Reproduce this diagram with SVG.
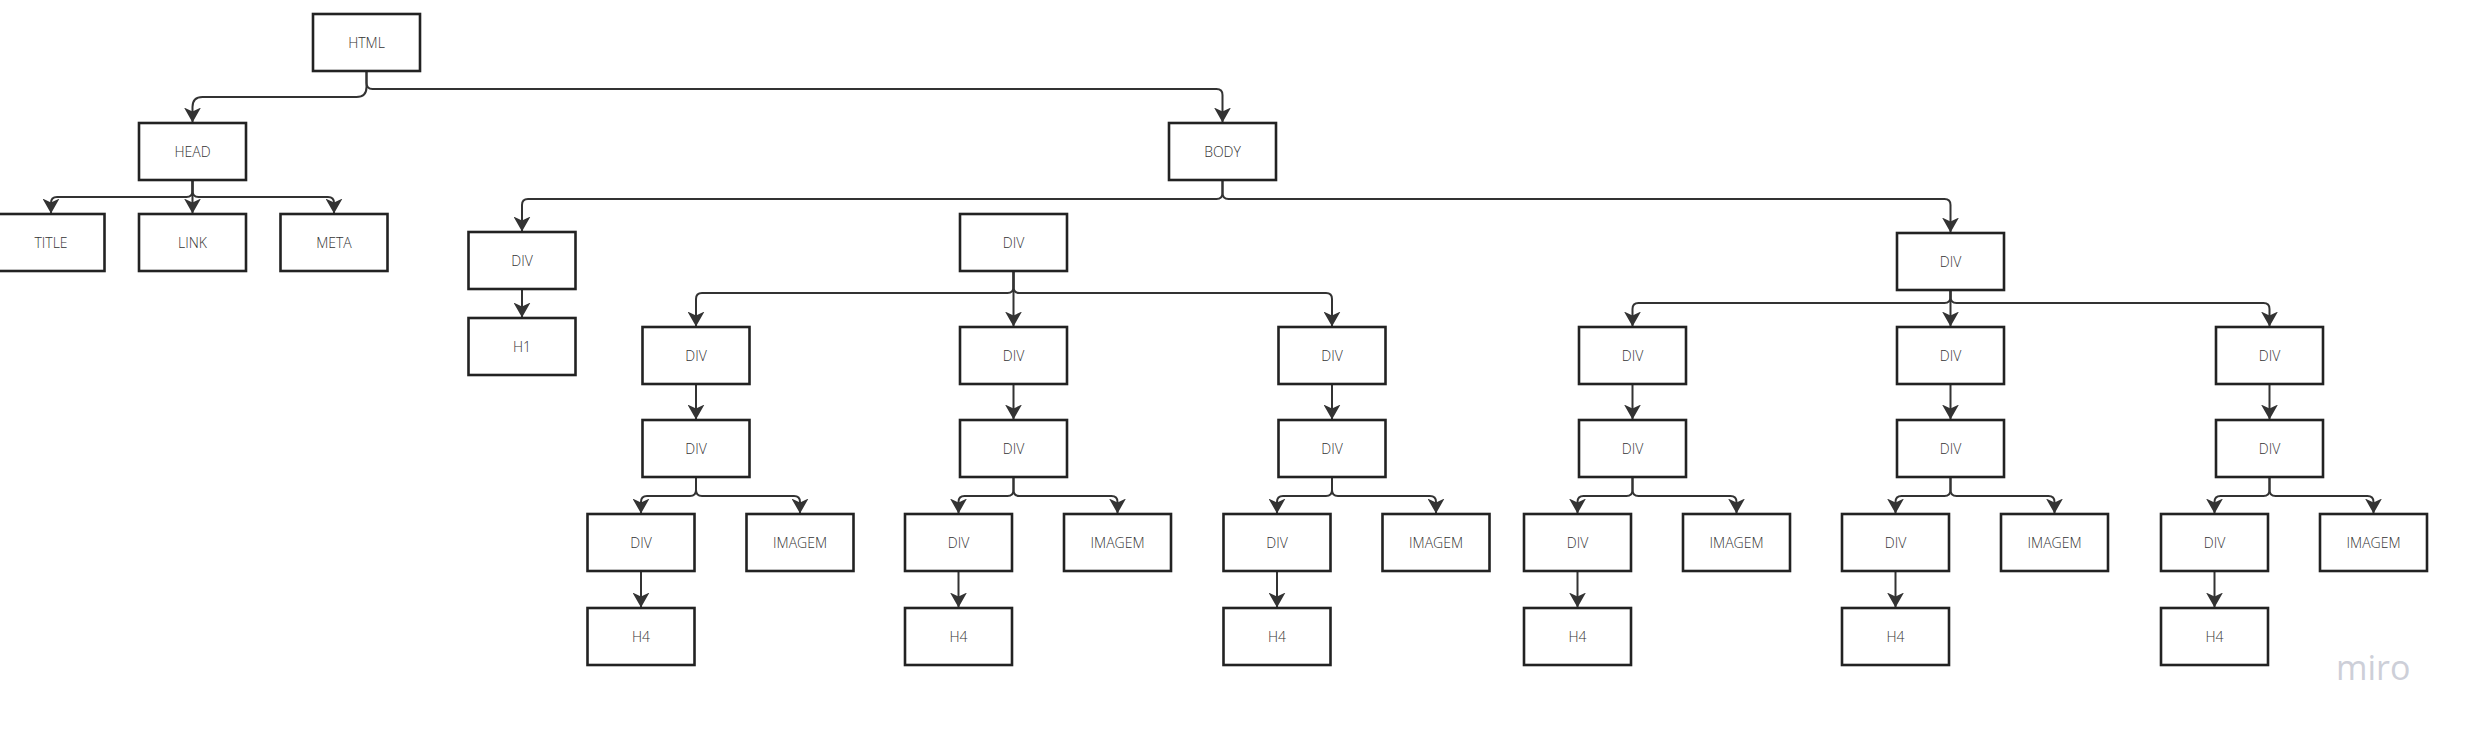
<svg xmlns="http://www.w3.org/2000/svg" width="2472" height="737" viewBox="0 0 2472 737">
<style>
.n rect{fill:#fff;stroke:#222;stroke-width:2.6}
.n text{font-family:"Open Sans","Liberation Sans",sans-serif;font-size:14px;font-weight:350;fill:#333;text-anchor:middle;dominant-baseline:central}
#connectors path{fill:none;stroke:#333;stroke-width:2;marker-end:url(#a)}
</style>
<defs>
<marker id="a" markerUnits="userSpaceOnUse" markerWidth="15" markerHeight="17" viewBox="0 0 15 17" refX="14.5" refY="8.5" orient="auto">
<path d="M0,0 L15,8.5 L0,17 L4,8.5 z" fill="#333"/>
</marker>
</defs>
<rect width="2472" height="737" fill="#fff"/>
<g id="connectors">
<path d="M366.5,71 V87 Q366.5,97 356.5,97 H202.5 Q192.5,97 192.5,107 V122"/>
<path d="M366.5,71 V83 Q366.5,89 372.5,89 H1216.5 Q1222.5,89 1222.5,95 V122"/>
<path d="M192.5,180 V191 Q192.5,197 186.5,197 H57 Q51,197 51,203 V213"/>
<path d="M192.5,180 V213"/>
<path d="M192.5,180 V191 Q192.5,197 198.5,197 H328 Q334,197 334,203 V213"/>
<path d="M1222.5,180 V193 Q1222.5,199 1216.5,199 H528 Q522,199 522,205 V231"/>
<path d="M1222.5,180 V193 Q1222.5,199 1228.5,199 H1944.5 Q1950.5,199 1950.5,205 V232"/>
<path d="M522,289 V317"/>
<path d="M1013.5,271 V287 Q1013.5,293 1007.5,293 H702 Q696,293 696,299 V326"/>
<path d="M1013.5,271 V326"/>
<path d="M1013.5,271 V287 Q1013.5,293 1019.5,293 H1326 Q1332,293 1332,299 V326"/>
<path d="M1950.5,290 V297 Q1950.5,303 1944.5,303 H1638.5 Q1632.5,303 1632.5,309 V326"/>
<path d="M1950.5,290 V326"/>
<path d="M1950.5,290 V297 Q1950.5,303 1956.5,303 H2263.5 Q2269.5,303 2269.5,309 V326"/>
<path d="M696,384 V419"/>
<path d="M696,477 V490 Q696,496 690,496 H647 Q641,496 641,502 V513"/>
<path d="M696,477 V490 Q696,496 702,496 H794 Q800,496 800,502 V513"/>
<path d="M641,571 V607"/>
<path d="M1013.5,384 V419"/>
<path d="M1013.5,477 V490 Q1013.5,496 1007.5,496 H964.5 Q958.5,496 958.5,502 V513"/>
<path d="M1013.5,477 V490 Q1013.5,496 1019.5,496 H1111.5 Q1117.5,496 1117.5,502 V513"/>
<path d="M958.5,571 V607"/>
<path d="M1332,384 V419"/>
<path d="M1332,477 V490 Q1332,496 1326,496 H1283 Q1277,496 1277,502 V513"/>
<path d="M1332,477 V490 Q1332,496 1338,496 H1430 Q1436,496 1436,502 V513"/>
<path d="M1277,571 V607"/>
<path d="M1632.5,384 V419"/>
<path d="M1632.5,477 V490 Q1632.5,496 1626.5,496 H1583.5 Q1577.5,496 1577.5,502 V513"/>
<path d="M1632.5,477 V490 Q1632.5,496 1638.5,496 H1730.5 Q1736.5,496 1736.5,502 V513"/>
<path d="M1577.5,571 V607"/>
<path d="M1950.5,384 V419"/>
<path d="M1950.5,477 V490 Q1950.5,496 1944.5,496 H1901.5 Q1895.5,496 1895.5,502 V513"/>
<path d="M1950.5,477 V490 Q1950.5,496 1956.5,496 H2048.5 Q2054.5,496 2054.5,502 V513"/>
<path d="M1895.5,571 V607"/>
<path d="M2269.5,384 V419"/>
<path d="M2269.5,477 V490 Q2269.5,496 2263.5,496 H2220.5 Q2214.5,496 2214.5,502 V513"/>
<path d="M2269.5,477 V490 Q2269.5,496 2275.5,496 H2367.5 Q2373.5,496 2373.5,502 V513"/>
<path d="M2214.5,571 V607"/>
</g>
<g id="html" class="n"><rect x="313" y="14" width="107" height="57"/><text x="366.5" y="42.5">HTML</text></g>
<g id="head" class="n"><rect x="139" y="123" width="107" height="57"/><text x="192.5" y="151.5">HEAD</text></g>
<g id="title" class="n"><rect x="-2.5" y="214" width="107" height="57"/><text x="51" y="242.5">TITLE</text></g>
<g id="link" class="n"><rect x="139" y="214" width="107" height="57"/><text x="192.5" y="242.5">LINK</text></g>
<g id="meta" class="n"><rect x="280.5" y="214" width="107" height="57"/><text x="334" y="242.5">META</text></g>
<g id="body" class="n"><rect x="1169" y="123" width="107" height="57"/><text x="1222.5" y="151.5">BODY</text></g>
<g id="div1" class="n"><rect x="468.5" y="232" width="107" height="57"/><text x="522" y="260.5">DIV</text></g>
<g id="h1" class="n"><rect x="468.5" y="318" width="107" height="57"/><text x="522" y="346.5">H1</text></g>
<g id="div2" class="n"><rect x="960" y="214" width="107" height="57"/><text x="1013.5" y="242.5">DIV</text></g>
<g id="div3" class="n"><rect x="1897" y="233" width="107" height="57"/><text x="1950.5" y="261.5">DIV</text></g>

<g id="s1-div" class="n"><rect x="642.5" y="327" width="107" height="57"/><text x="696" y="355.5">DIV</text></g>
<g id="s1-div2" class="n"><rect x="642.5" y="420" width="107" height="57"/><text x="696" y="448.5">DIV</text></g>
<g id="s1-div3" class="n"><rect x="587.5" y="514" width="107" height="57"/><text x="641" y="542.5">DIV</text></g>
<g id="s1-img" class="n"><rect x="746.5" y="514" width="107" height="57"/><text x="800" y="542.5">IMAGEM</text></g>
<g id="s1-h4" class="n"><rect x="587.5" y="608" width="107" height="57"/><text x="641" y="636.5">H4</text></g>

<g id="s2-div" class="n"><rect x="960" y="327" width="107" height="57"/><text x="1013.5" y="355.5">DIV</text></g>
<g id="s2-div2" class="n"><rect x="960" y="420" width="107" height="57"/><text x="1013.5" y="448.5">DIV</text></g>
<g id="s2-div3" class="n"><rect x="905" y="514" width="107" height="57"/><text x="958.5" y="542.5">DIV</text></g>
<g id="s2-img" class="n"><rect x="1064" y="514" width="107" height="57"/><text x="1117.5" y="542.5">IMAGEM</text></g>
<g id="s2-h4" class="n"><rect x="905" y="608" width="107" height="57"/><text x="958.5" y="636.5">H4</text></g>

<g id="s3-div" class="n"><rect x="1278.5" y="327" width="107" height="57"/><text x="1332" y="355.5">DIV</text></g>
<g id="s3-div2" class="n"><rect x="1278.5" y="420" width="107" height="57"/><text x="1332" y="448.5">DIV</text></g>
<g id="s3-div3" class="n"><rect x="1223.5" y="514" width="107" height="57"/><text x="1277" y="542.5">DIV</text></g>
<g id="s3-img" class="n"><rect x="1382.5" y="514" width="107" height="57"/><text x="1436" y="542.5">IMAGEM</text></g>
<g id="s3-h4" class="n"><rect x="1223.5" y="608" width="107" height="57"/><text x="1277" y="636.5">H4</text></g>

<g id="s4-div" class="n"><rect x="1579" y="327" width="107" height="57"/><text x="1632.5" y="355.5">DIV</text></g>
<g id="s4-div2" class="n"><rect x="1579" y="420" width="107" height="57"/><text x="1632.5" y="448.5">DIV</text></g>
<g id="s4-div3" class="n"><rect x="1524" y="514" width="107" height="57"/><text x="1577.5" y="542.5">DIV</text></g>
<g id="s4-img" class="n"><rect x="1683" y="514" width="107" height="57"/><text x="1736.5" y="542.5">IMAGEM</text></g>
<g id="s4-h4" class="n"><rect x="1524" y="608" width="107" height="57"/><text x="1577.5" y="636.5">H4</text></g>

<g id="s5-div" class="n"><rect x="1897" y="327" width="107" height="57"/><text x="1950.5" y="355.5">DIV</text></g>
<g id="s5-div2" class="n"><rect x="1897" y="420" width="107" height="57"/><text x="1950.5" y="448.5">DIV</text></g>
<g id="s5-div3" class="n"><rect x="1842" y="514" width="107" height="57"/><text x="1895.5" y="542.5">DIV</text></g>
<g id="s5-img" class="n"><rect x="2001" y="514" width="107" height="57"/><text x="2054.5" y="542.5">IMAGEM</text></g>
<g id="s5-h4" class="n"><rect x="1842" y="608" width="107" height="57"/><text x="1895.5" y="636.5">H4</text></g>

<g id="s6-div" class="n"><rect x="2216" y="327" width="107" height="57"/><text x="2269.5" y="355.5">DIV</text></g>
<g id="s6-div2" class="n"><rect x="2216" y="420" width="107" height="57"/><text x="2269.5" y="448.5">DIV</text></g>
<g id="s6-div3" class="n"><rect x="2161" y="514" width="107" height="57"/><text x="2214.5" y="542.5">DIV</text></g>
<g id="s6-img" class="n"><rect x="2320" y="514" width="107" height="57"/><text x="2373.5" y="542.5">IMAGEM</text></g>
<g id="s6-h4" class="n"><rect x="2161" y="608" width="107" height="57"/><text x="2214.5" y="636.5">H4</text></g>

<text x="2336" y="680" font-family="Open Sans, Liberation Sans, sans-serif" font-size="34" font-weight="500" fill="#cdcfd8">miro</text>
</svg>
